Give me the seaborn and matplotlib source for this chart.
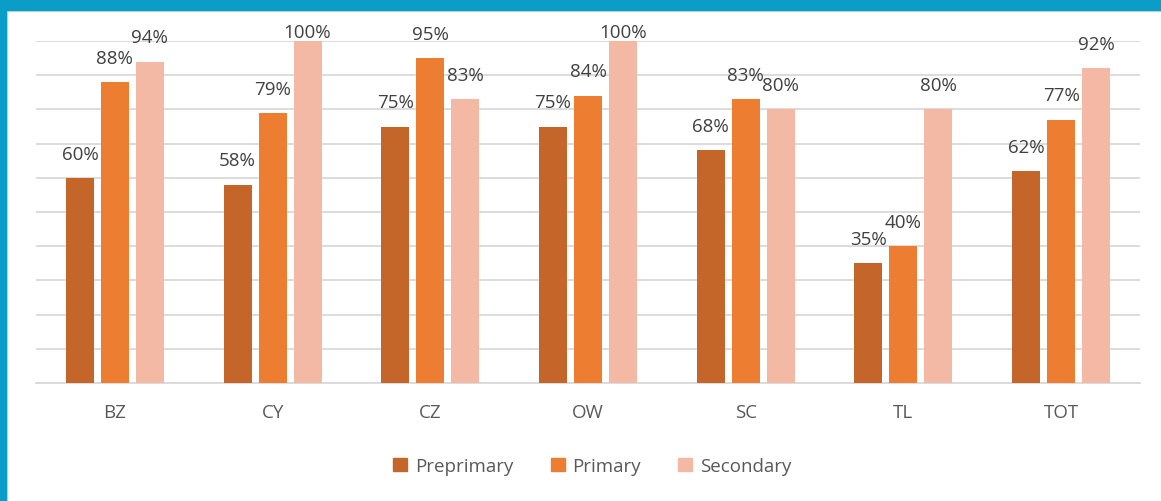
import matplotlib
matplotlib.use("Agg")
import matplotlib.pyplot as plt
from matplotlib.patches import Rectangle
import seaborn as sns
import pandas as pd

regions = ["BZ", "CY", "CZ", "OW", "SC", "TL", "TOT"]
levels = ["Preprimary", "Primary", "Secondary"]
preprimary = [60, 58, 75, 75, 68, 35, 62]
primary = [88, 79, 95, 84, 83, 40, 77]
secondary = [94, 100, 83, 100, 80, 80, 92]
colors = ["#C4652A", "#ED7D31", "#F4B9A4"]

df = pd.DataFrame({
    "region": regions * 3,
    "level": [levels[0]] * 7 + [levels[1]] * 7 + [levels[2]] * 7,
    "value": preprimary + primary + secondary,
})

sns.set_style("white")
plt.rcParams["font.family"] = ["Open Sans", "DejaVu Sans"]

fig = plt.figure(figsize=(11.61, 5.02), dpi=100)
ax = fig.add_axes([36 / 1161, 1 - 384 / 502, (1140 - 36) / 1161, (384 - 42) / 502])

sns.barplot(data=df, x="region", y="value", hue="level", hue_order=levels,
            palette=colors, width=0.665, gap=0.2, saturation=1, ax=ax,
            legend=False, linewidth=0, zorder=3)

ax.set_ylim(0, 100)
ax.set_xlim(-0.5, len(regions) - 0.5)
ax.set_yticks(range(0, 101, 10))
ax.yaxis.grid(True, color="#D9D9D9", linewidth=1.3, zorder=0)
ax.set_axisbelow(True)
ax.tick_params(axis="y", left=False, labelleft=False)
ax.tick_params(axis="x", bottom=False, labelsize=13.5, labelcolor="#595959", pad=11)
ax.set_xlabel("")
ax.set_ylabel("")
for s in ["top", "right", "left"]:
    ax.spines[s].set_visible(False)
ax.spines["bottom"].set_color("#D9D9D9")
ax.spines["bottom"].set_linewidth(1.3)

# value labels; labels on full-height bars sit closer so they stay inside the frame
for container in ax.containers:
    vals = container.datavalues
    ax.bar_label(container, labels=[f"{v:.0f}%" if v < 100 else "" for v in vals],
                 padding=11, fontsize=13.5, color="#404040")
    ax.bar_label(container, labels=[f"{v:.0f}%" if v >= 100 else "" for v in vals],
                 padding=0, fontsize=13.5, color="#404040")

handles = [Rectangle((0, 0), 1, 1, color=c) for c in colors]
fig.legend(handles, levels, loc="center", bbox_to_anchor=(0.51, 1 - 467 / 502),
           ncol=3, frameon=False, fontsize=13.5, labelcolor="#595959",
           handlelength=0.75, handleheight=0.75, handletextpad=0.4, columnspacing=2.0)

# frame: blue band along top and left edge, with a thin grey inner line
fig.patches.append(Rectangle((0, 1 - 11 / 502), 1, 11 / 502, transform=fig.transFigure,
                             color="#0A9DC8", zorder=10))
fig.patches.append(Rectangle((0, 0), 6 / 1161, 1, transform=fig.transFigure,
                             color="#0A9DC8", zorder=10))
fig.patches.append(Rectangle((6 / 1161, 1 - 12 / 502), 1, 1 / 502, transform=fig.transFigure,
                             color="#DDDDDD", zorder=9))
fig.patches.append(Rectangle((6 / 1161, 0), 1 / 1161, 1 - 11 / 502, transform=fig.transFigure,
                             color="#DDDDDD", zorder=9))

fig.savefig("out.png", dpi=100)
